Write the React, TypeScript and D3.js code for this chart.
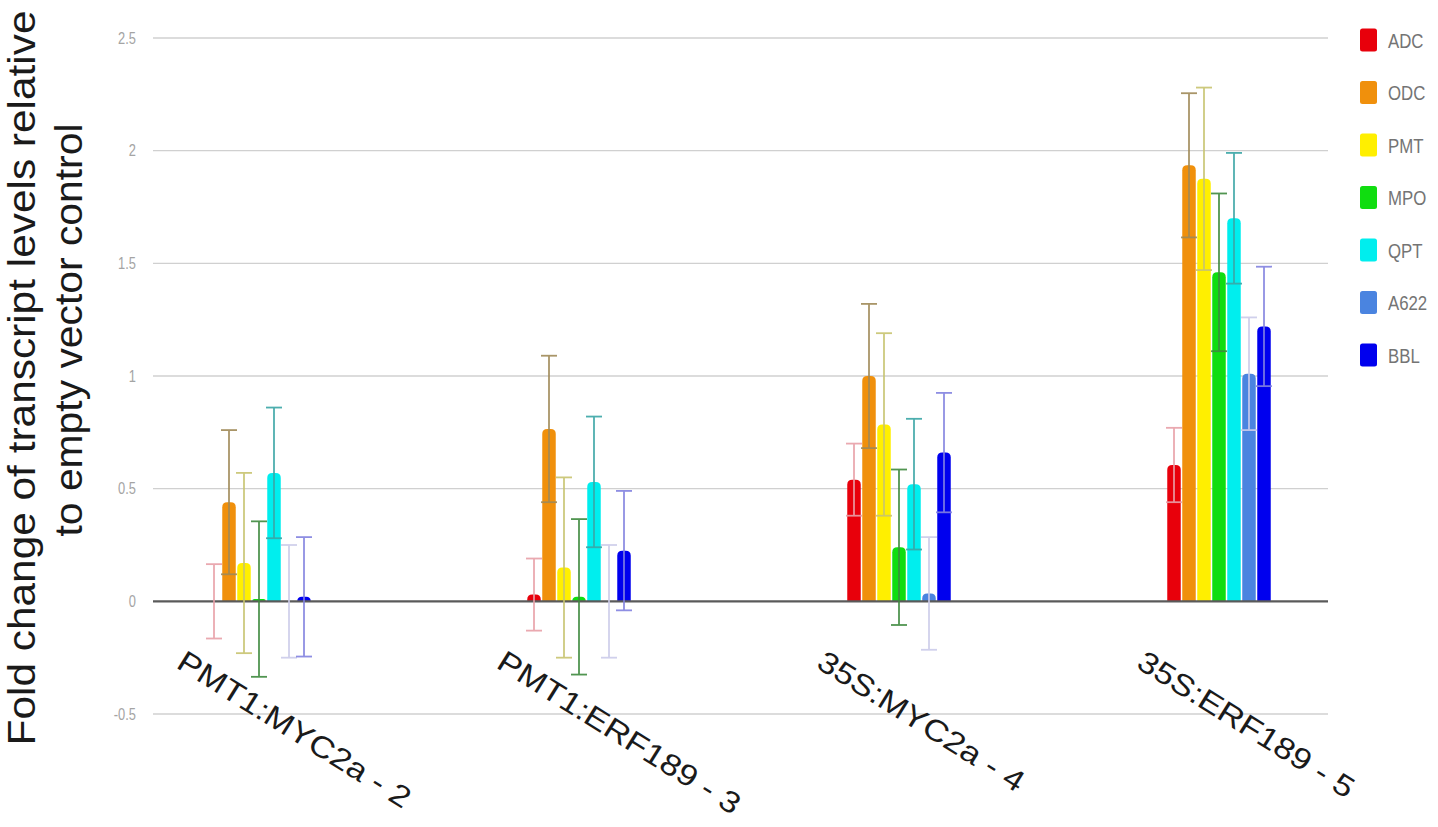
import React from "react";
import * as d3 from "d3";

const categories = ["PMT1:MYC2a - 2", "PMT1:ERF189 - 3", "35S:MYC2a - 4", "35S:ERF189 - 5"];
const genes = ["ADC", "ODC", "PMT", "MPO", "QPT", "A622", "BBL"];

// mean fold change per gene, one value per construct
const adc = [0.0, 0.03, 0.54, 0.605];
const odc = [0.44, 0.765, 1.0, 1.935];
const pmt = [0.17, 0.15, 0.785, 1.875];
const mpo = [0.01, 0.02, 0.24, 1.46];
const qpt = [0.57, 0.53, 0.52, 1.7];
const a622 = [0.0, 0.0, 0.035, 1.01];
const bbl = [0.02, 0.225, 0.66, 1.22];

// error bar half-widths
const adcErr = [0.165, 0.16, 0.16, 0.165];
const odcErr = [0.32, 0.325, 0.32, 0.32];
const pmtErr = [0.4, 0.4, 0.405, 0.405];
const mpoErr = [0.345, 0.345, 0.345, 0.35];
const qptErr = [0.29, 0.29, 0.29, 0.29];
const a622Err = [0.25, 0.25, 0.25, 0.25];
const bblErr = [0.265, 0.265, 0.265, 0.265];

const yTicks = [-0.5, 0, 0.5, 1, 1.5, 2, 2.5];

const barColors = ["#e8000b", "#f0900c", "#ffef00", "#10dd10", "#00eeee", "#4a84e0", "#0000ee"];
const errColors = ["#e8a0a8", "#a08a58", "#c8c470", "#3f8a3f", "#3aa6a6", "#ccccea", "#8282e0"];

const means = [adc, odc, pmt, mpo, qpt, a622, bbl];
const errs = [adcErr, odcErr, pmtErr, mpoErr, qptErr, a622Err, bblErr];

const W = 1438;
const H = 827;
const gridLeft = 153;
const gridRight = 1328;

const font = "'Liberation Sans', Arial, sans-serif";

function roundedTopBar(x: number, w: number, yTop: number, yBase: number, r: number) {
  const h = yBase - yTop;
  if (h <= 0) return "";
  const rr = Math.min(r, h, w / 2);
  return `M${x},${yBase}V${yTop + rr}Q${x},${yTop} ${x + rr},${yTop}H${x + w - rr}Q${x + w},${yTop} ${x + w},${yTop + rr}V${yBase}Z`;
}

export default function App() {
  const y = d3.scaleLinear().domain([-0.5, 2.5]).range([714, 38]);
  const x0 = d3.scaleBand<string>().domain(categories).range([99, 1379]).padding(0);
  const x1 = d3
    .scaleBand<string>()
    .domain(genes)
    .range([-52.5, 52.5])
    .paddingInner(0.1)
    .paddingOuter(0.05);
  const bw = x1.bandwidth();
  const y0 = y(0);

  return (
    <svg
      width={W}
      height={H}
      style={{ position: "absolute", left: 0, top: 0, background: "#fff" }}
      fontFamily={font}
    >
      {/* grid and tick labels */}
      {yTicks.map((t) => (
        <g key={t}>
          {t !== 0 && (
            <line x1={gridLeft} x2={gridRight} y1={y(t)} y2={y(t)} stroke="#d0d0d0" strokeWidth={1.4} />
          )}
          <text
            transform={`translate(136,${y(t)}) scale(0.78,1)`}
            dy="0.35em"
            textAnchor="end"
            fontSize={16.5}
            fill="#a4a4a4"
          >
            {t}
          </text>
        </g>
      ))}

      {/* bars */}
      {categories.map((c, ci) => {
        const cx = x0(c)! + x0.bandwidth() / 2;
        return (
          <g key={c}>
            {genes.map((g, gi) => {
              const v = means[gi][ci];
              const bx = cx + x1(g)!;
              return (
                <path key={g} d={roundedTopBar(bx, bw, y(v), y0, 5)} fill={barColors[gi]} />
              );
            })}
          </g>
        );
      })}

      {/* zero line */}
      <line x1={gridLeft} x2={gridRight} y1={y0} y2={y0} stroke="#5a5a5a" strokeWidth={2.2} />

      {/* error bars */}
      {categories.map((c, ci) => {
        const cx = x0(c)! + x0.bandwidth() / 2;
        return (
          <g key={c}>
            {genes.map((g, gi) => {
              const v = means[gi][ci];
              const e = errs[gi][ci];
              const mx = cx + x1(g)! + bw / 2;
              const yt = y(v + e);
              const yb = y(v - e);
              return (
                <g key={g} stroke={errColors[gi]} strokeWidth={1.8} opacity={0.9}>
                  <line x1={mx} x2={mx} y1={yt} y2={yb} />
                  <line x1={mx - 8} x2={mx + 8} y1={yt} y2={yt} />
                  <line x1={mx - 8} x2={mx + 8} y1={yb} y2={yb} />
                </g>
              );
            })}
          </g>
        );
      })}

      {/* category labels */}
      {categories.map((c) => {
        const cx = x0(c)! + x0.bandwidth() / 2;
        return (
          <text
            key={c}
            transform={`translate(${cx - 84},${667}) rotate(32) scale(1.16,1)`}
            fontSize={30}
            fill="#1a1a1a"
          >
            {c}
          </text>
        );
      })}

      {/* y axis title */}
      <text
        transform={`translate(35,378) rotate(-90)`}
        textAnchor="middle"
        fontSize={38}
        fill="#1a1a1a"
        textLength={735}
        lengthAdjust="spacingAndGlyphs"
      >
        Fold change of  transcript levels relative
      </text>
      <text
        transform={`translate(82,330) rotate(-90)`}
        textAnchor="middle"
        fontSize={38}
        fill="#1a1a1a"
        textLength={413}
        lengthAdjust="spacingAndGlyphs"
      >
        to empty vector control
      </text>

      {/* legend */}
      {genes.map((g, gi) => {
        const ly = 40 + gi * 52.5;
        return (
          <g key={g}>
            <rect x={1360} y={ly - 11.5} width={17} height={23} rx={2.5} fill={barColors[gi]} />
            <text
              transform={`translate(1388,${ly}) scale(0.8,1)`}
              dy="0.36em"
              fontSize={21}
              fill="#747474"
            >
              {g}
            </text>
          </g>
        );
      })}
    </svg>
  );
}
